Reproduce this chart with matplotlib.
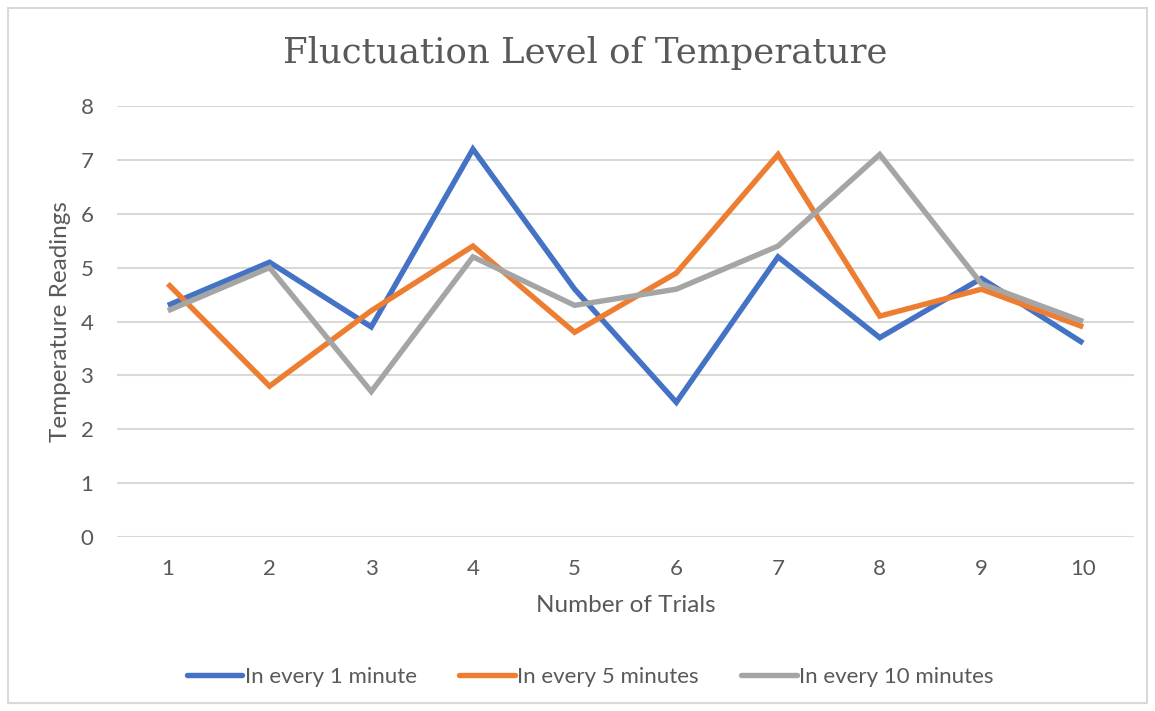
import matplotlib
matplotlib.use("Agg")
from matplotlib import pyplot as plt
from matplotlib.patches import Rectangle

trials = [1, 2, 3, 4, 5, 6, 7, 8, 9, 10]
every_1_min = [4.3, 5.1, 3.9, 7.2, 4.6, 2.5, 5.2, 3.7, 4.8, 3.6]
every_5_min = [4.7, 2.8, 4.2, 5.4, 3.8, 4.9, 7.1, 4.1, 4.6, 3.9]
every_10_min = [4.2, 5.0, 2.7, 5.2, 4.3, 4.6, 5.4, 7.1, 4.7, 4.0]
series_names = ["In every 1 minute", "In every 5 minutes", "In every 10 minutes"]
colors = ["#4472C4", "#ED7D31", "#A5A5A5"]

text_color = "#595959"
plt.rcParams['font.family'] = ['Lato', 'DejaVu Sans']

fig = plt.figure(figsize=(11.55, 7.11), dpi=100)
fig.patches.append(Rectangle((8 / 1155, 8 / 711), 1 - 16 / 1155, 1 - 16 / 711,
                             transform=fig.transFigure, fill=False,
                             edgecolor="#D9D9D9", linewidth=1.5))

ax = fig.add_axes([117 / 1155, 174 / 711, (1134 - 117) / 1155, (537 - 106) / 711])

for values, name, c in zip([every_1_min, every_5_min, every_10_min], series_names, colors):
    ax.plot(trials, values, color=c, linewidth=3.9, label=name,
            solid_joinstyle='miter', solid_capstyle='butt')

ax.set_xlim(0.5, 10.5)
ax.set_ylim(0, 8)
ax.set_xticks(trials)
ax.set_yticks(range(0, 9))
ax.grid(axis='y', color="#D9D9D9", linewidth=1.5)
ax.set_axisbelow(True)
for s in ax.spines.values():
    s.set_visible(False)
ax.tick_params(length=0, labelsize=16, colors=text_color)
ax.tick_params(axis='x', pad=16)
ax.tick_params(axis='y', pad=17)

ax.set_xlabel("Number of Trials", fontsize=17.5, color=text_color, labelpad=11)
ax.set_ylabel("Temperature Readings", fontsize=17.5, color=text_color, labelpad=7)

fig.text(0.5 + 8 / 1155, 1 - 53 / 711, "Fluctuation Level of Temperature", ha='center', va='center',
         fontsize=25.6, color=text_color, family=['DejaVu Serif'])

leg = fig.legend(loc='center', bbox_to_anchor=(0.511, 1 - 677 / 711), ncol=3, frameon=False,
                 fontsize=16, handlelength=2.5, handletextpad=0.12, columnspacing=1.9)
for t in leg.get_texts():
    t.set_color(text_color)
for h in leg.legend_handles:
    h.set_solid_capstyle('round')

plt.savefig("out.png", dpi=100)
